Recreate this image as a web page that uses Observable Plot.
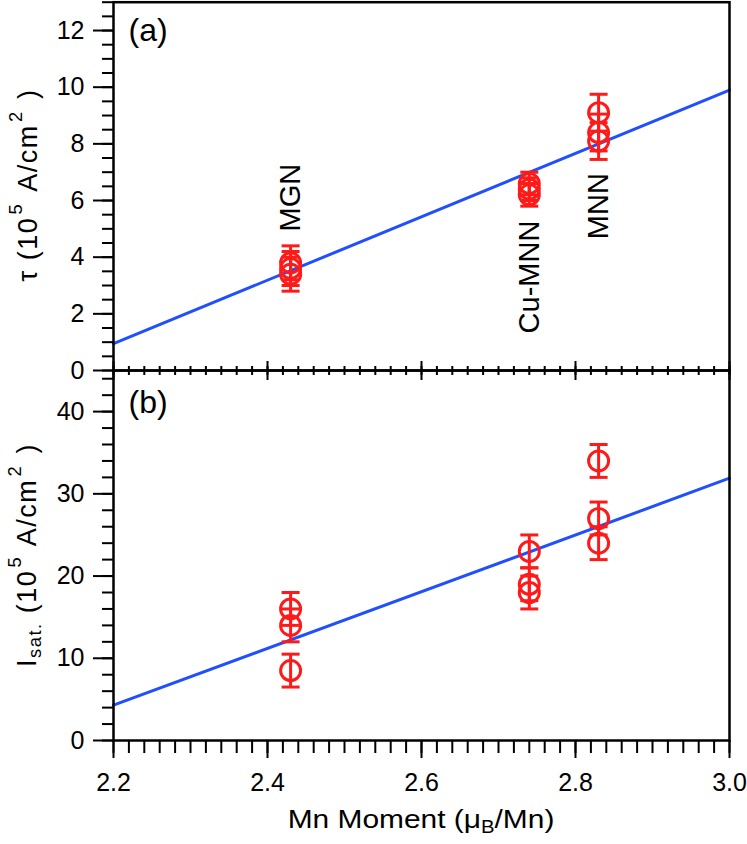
<!DOCTYPE html>
<html><head><meta charset="utf-8">
<script src="https://cdn.jsdelivr.net/npm/d3@7"></script>
<script src="https://cdn.jsdelivr.net/npm/@observablehq/plot@0.6"></script>
<style>
body{margin:0;background:#fff;font-family:"Liberation Sans",Arial,sans-serif;}
#wrap{position:relative;width:747px;height:844px;overflow:hidden;background:#fff;}
#wrap svg{position:absolute;left:0;overflow:visible;}
.title{position:absolute;white-space:nowrap;color:#000;line-height:1;font-family:"Liberation Sans",Arial,sans-serif;}
.title sup{font-size:0.68em;vertical-align:0.8em;line-height:0;margin:0 0.12em;}
.title sub{font-size:0.68em;vertical-align:-0.3em;line-height:0;}
.ytitle{letter-spacing:1.5px;}
</style></head><body>
<div id="wrap"></div>
<script>
// ---- data ----
const samples = ["MGN", "Cu-MNN", "MNN"];
const moment = [2.43, 2.74, 2.83];
const tauValues = [[3.8, 3.6, 3.4], [6.6, 6.4, 6.2], [9.1, 8.4, 8.1]];
const tauErr = [0.6, 0.4, 0.65];
const isatValues = [[16, 14, 8.5], [23, 19, 18], [34, 27, 24]];
const isatErr = [2, 2, 2];
const fitX = [2.2, 3.0];
const tauFitY = [0.95, 9.9];
const isatFitY = [4.3, 31.9];
const labelTauY = [6.1, 3.3, 5.8];
const xMajor = [2.2, 2.4, 2.6, 2.8, 3.0];
const xMinor = d3.range(0, 41).map(i => 2.2 + i * 0.02);
const tauMajor = [0, 2, 4, 6, 8, 10, 12];
const tauMinor = d3.range(0, 27).map(i => i * 0.5);
const isatMajor = [0, 10, 20, 30, 40];
const isatMinor = d3.range(0, 23).map(i => i * 2);

const red = "#ff1a1a";
const blue = "#1f4fff";

function table(vals, errs) {
  return samples.flatMap((s, i) => vals[i].map(v => ({sample: s, x: moment[i], y: v, err: errs[i]})));
}
const dataA = table(tauValues, tauErr);
const dataB = table(isatValues, isatErr);
const fitA = fitX.map((x, i) => ({x, y: tauFitY[i]}));
const fitB = fitX.map((x, i) => ({x, y: isatFitY[i]}));
const labels = samples.map((s, i) => ({text: s, x: moment[i], y: labelTauY[i]}));

const capSymbol = {draw(ctx, size) { const w = Math.sqrt(size / Math.PI); ctx.moveTo(-w, 0); ctx.lineTo(w, 0); }};

const style = {fontFamily: "Liberation Sans, Arial, sans-serif", fontSize: "25px", color: "black", background: "transparent", overflow: "visible"};

function dataMarks(data, fit) {
  return [
    Plot.line(fit, {x: "x", y: "y", stroke: blue, strokeWidth: 3}),
    Plot.ruleX(data, {x: "x", y1: d => d.y - d.err, y2: d => d.y + d.err, stroke: red, strokeWidth: 3}),
    Plot.dot(data, {x: "x", y: d => d.y + d.err, symbol: capSymbol, r: 9, stroke: red, strokeWidth: 3}),
    Plot.dot(data, {x: "x", y: d => d.y - d.err, symbol: capSymbol, r: 9, stroke: red, strokeWidth: 3}),
    Plot.dot(data, {x: "x", y: "y", r: 10, stroke: red, strokeWidth: 3})
  ];
}

const plotA = Plot.plot({
  width: 747, height: 380, marginLeft: 113, marginRight: 18, marginTop: 1.7, marginBottom: 10,
  style,
  x: {domain: [2.2, 3.0], label: null},
  y: {domain: [0, 13], label: null},
  marks: [
    ...dataMarks(dataA, fitA),
    Plot.text(labels, {x: "x", y: "y", text: "text", rotate: -90, fontSize: 29, textAnchor: "middle", lineAnchor: "middle", fill: "black"}),
    Plot.text(["(a)"], {frameAnchor: "top-left", dx: 15, dy: 16, fontSize: 32, textAnchor: "start", lineAnchor: "top", fill: "black"}),
    Plot.axisY({ticks: tauMinor, tickSize: 11, fill: "none", stroke: "black", strokeWidth: 2, label: null}),
    Plot.axisY({ticks: tauMajor, tickSize: 20, tickPadding: 9, fontSize: 25, strokeWidth: 2, label: null}),
    Plot.axisX({ticks: xMinor, anchor: "bottom", tickSize: 5, fill: "none", stroke: "black", strokeWidth: 2, label: null}),
    Plot.axisX({ticks: xMajor, anchor: "bottom", tickSize: 10, fill: "none", stroke: "black", strokeWidth: 2, label: null}),
    Plot.frame({stroke: "black", strokeWidth: 2.5})
  ]
});

const plotB = Plot.plot({
  width: 747, height: 484, marginLeft: 113, marginRight: 18, marginTop: 10, marginBottom: 104,
  style,
  x: {domain: [2.2, 3.0], label: null},
  y: {domain: [0, 45], label: null},
  marks: [
    ...dataMarks(dataB, fitB),
    Plot.text(["(b)"], {frameAnchor: "top-left", dx: 15, dy: 20, fontSize: 32, textAnchor: "start", lineAnchor: "top", fill: "black"}),
    Plot.axisY({ticks: isatMinor, tickSize: 11, fill: "none", stroke: "black", strokeWidth: 2, label: null}),
    Plot.axisY({ticks: isatMajor, tickSize: 20, tickPadding: 9, fontSize: 25, strokeWidth: 2, label: null}),
    Plot.axisX({ticks: xMinor, anchor: "top", tickSize: 5, fill: "none", stroke: "black", strokeWidth: 2, label: null}),
    Plot.axisX({ticks: xMajor, anchor: "top", tickSize: 10, fill: "none", stroke: "black", strokeWidth: 2, label: null}),
    Plot.axisX({ticks: xMinor, anchor: "bottom", tickSize: 13, fill: "none", stroke: "black", strokeWidth: 2, label: null}),
    Plot.axisX({ticks: xMajor, anchor: "bottom", tickSize: 18, tickPadding: 15, fontSize: 25, strokeWidth: 2, tickFormat: d3.format(".1f"), label: null}),
    Plot.frame({stroke: "black", strokeWidth: 2.5})
  ]
});

const wrap = document.getElementById("wrap");
plotA.style.top = "0px";
plotB.style.top = "360px";
wrap.appendChild(plotA);
wrap.appendChild(plotB);

function addTitle(html, cx, cy, size, transform, cls) {
  const d = document.createElement("div");
  d.className = "title" + (cls ? " " + cls : "");
  d.innerHTML = html;
  d.style.fontSize = size + "px";
  d.style.left = cx + "px";
  d.style.top = cy + "px";
  d.style.transform = "translate(-50%,-50%) " + transform;
  wrap.appendChild(d);
}
addTitle("τ (10<sup>5</sup> A/cm<sup>2</sup> )", 28, 185, 27, "rotate(-90deg)", "ytitle");
addTitle("I<sub>sat.</sub> (10<sup>5</sup> A/cm<sup>2</sup> )", 27, 555, 27, "rotate(-90deg)", "ytitle");
addTitle("Mn Moment (μ<sub>B</sub>/Mn)", 421, 819, 26, "scaleX(1.15)");
</script>
</body></html>
